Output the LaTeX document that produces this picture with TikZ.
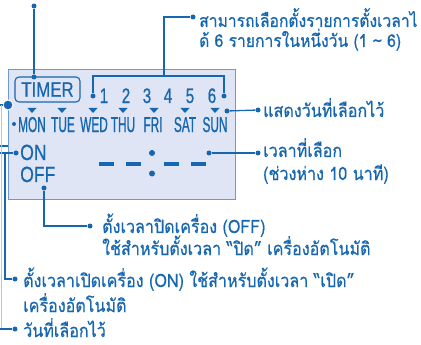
\documentclass[tikz,border=0pt]{standalone}
\usepackage{fontspec}
\setmainfont{Liberation Sans}
\newfontfamily\thfont[Script=Thai,FakeStretch=0.88,FakeBold=0.6]{Loma}
\newfontfamily\dayfont[FakeStretch=0.55,FakeBold=0.8]{Liberation Sans}
\newfontfamily\numfont[FakeStretch=0.72,FakeBold=0.6]{Liberation Sans}
\newfontfamily\timfont[FakeStretch=0.8,FakeBold=0.5]{Liberation Sans}
\definecolor{tb}{HTML}{1766B0}
\definecolor{lcdfill}{HTML}{DFE5F4}
\definecolor{lcdline}{HTML}{6B9AD3}
\begin{document}
\begin{tikzpicture}[x=1pt,y=-1pt,
  th/.style={font=\thfont\fontsize{18.3}{20}\selectfont, text=tb, anchor=base west, inner sep=0pt},
  daylbl/.style={font=\dayfont\fontsize{21.5}{24}\selectfont, text=tb, anchor=base, inner sep=0pt},
  numlbl/.style={font=\numfont\fontsize{21}{24}\selectfont, text=tb, anchor=base, inner sep=0pt},
  onoff/.style={font=\timfont\fontsize{22}{24}\selectfont, text=tb, anchor=base west, inner sep=0pt},
  dotc/.style={circle, fill=tb, inner sep=0pt, minimum size=5pt},
  smalldot/.style={circle, fill=tb, inner sep=0pt, minimum size=4pt},
  conn/.style={draw=tb, line width=1.3pt},
  tri/.style={fill=tb},
  dashseg/.style={draw=tb, line width=4pt},
]
\useasboundingbox (0,0) rectangle (421,345);
% LCD
\node[draw=lcdline, fill=lcdfill, line width=1.3pt, minimum width=227pt, minimum height=130pt, inner sep=0pt, anchor=north west] (lcd) at (8,69) {};
% TIMER box
\node[draw=tb, rounded corners=4pt, line width=1.1pt, minimum width=65pt, minimum height=25pt, inner sep=0pt,
      font=\timfont\fontsize{21}{24}\selectfont, text=tb] (timer) at (47.5,89.5) {TIMER};
\node[dotc] (dtop) at (34,6) {};
\node[dotc] (dtim) at (34,77) {};
\draw[conn] (dtop) -- (dtim);
% bracket
\node[dotc] (b1) at (93,96) {};
\node[dotc] (b6) at (224,96) {};
\coordinate (bl) at (93,76);
\coordinate (br) at (224,76);
\coordinate (bm) at (164,76);
\coordinate (bt) at (164,17);
\node[dotc] (dsel) at (193,17) {};
\draw[conn] (b1) -- (bl) -- (br) -- (b6);
\draw[conn] (bm) -- (bt) -- (dsel);
\node[th, font=\thfont\fontsize{17.8}{20}\selectfont] (tsel1) at (199,27) {สามารถเลือกตั้งรายการตั้งเวลาไ};
\node[th, font=\thfont\fontsize{17.8}{20}\selectfont] (tsel2) at (199,47) {ด้ 6 รายการในหนึ่งวัน (1 \textasciitilde{} 6)};
% numbers
\foreach \n/\x in {1/104,2/126,3/147,4/168,5/190,6/212}{
  \node[numlbl] (n\n) at (\x,103) {\n};
}
% triangles
\foreach \x in {32,62,93,123,154,185,215}{
  \fill[tri] (\x-4.5,108) -- (\x+4.5,108) -- (\x,113) -- cycle;
}
% days
\foreach \d/\x in {MON/32,TUE/63,WED/94,THU/123,FRI/153,SAT/185,SUN/215}{
  \node[daylbl] (day\d) at (\x,132) {\d};
}
\node[smalldot] (dmon) at (14,124) {};
% SUN connector
\node[dotc] (dsun) at (227,111) {};
\node[dotc] (dsunr) at (258,110) {};
\draw[conn] (dsun) -- (dsunr);
\node[th] (tsun) at (263,117) {แสดงวันที่เลือกไว้};
% time display
\draw[dashseg] (99,164) -- (114,164);
\draw[dashseg] (126,164) -- (141,164);
\draw[dashseg] (164,164) -- (179,164);
\draw[dashseg] (191,164) -- (206,164);
\node[circle, fill=tb, inner sep=0pt, minimum size=6pt] (col1) at (152,153) {};
\node[circle, fill=tb, inner sep=0pt, minimum size=6pt] (col2) at (152,173.5) {};
\node[dotc] (dtime) at (209,153) {};
\node[dotc] (dtimer) at (258,153) {};
\draw[conn] (dtime) -- (dtimer);
\node[th] (ttime1) at (263,157) {เวลาที่เลือก};
\node[th] (ttime2) at (263,180) {(ช่วงห่าง 10 นาที)};
% ON / OFF
\node[onoff] (on) at (20,160) {ON};
\node[onoff] (off) at (20,182) {OFF};
\node[dotc] (don) at (16,153) {};
\node[dotc] (doff) at (44,188) {};
\coordinate (offc) at (44,226);
\node[dotc] (doffr) at (90,226) {};
\draw[conn] (doff) -- (offc) -- (doffr);
\node[th] (toff1) at (102,233) {ตั้งเวลาปิดเครื่อง (OFF)};
\node[th] (toff2) at (102,255) {ใช้สำหรับตั้งเวลา “ปิด” เครื่องอัตโนมัติ};
% left connectors
\node[circle, fill=tb, draw=white, line width=1pt, inner sep=0pt, minimum size=10pt] (bigdot) at (8,105) {};
\coordinate (e1) at (0,105);
\draw[conn] (bigdot) -- (e1);
\coordinate (e2) at (0,146);
\coordinate (e3) at (8,146);
\draw[conn] (e2) -- (e3);
\coordinate (e4) at (0,153);
\draw[conn] (don) -- (e4);
\coordinate (v1) at (5,153);
\coordinate (v2) at (5,279);
\node[dotc] (donr) at (15,279) {};
\draw[conn] (v1) -- (v2) -- (donr);
\coordinate (f1) at (1,105);
\coordinate (f2) at (1,329);
\draw[draw=tb!35, line width=1pt] (f1) -- (f2);
\coordinate (e5) at (0,329);
\node[dotc] (dday) at (15,329) {};
\draw[conn] (e5) -- (dday);
\node[th] (ton1) at (23,287) {ตั้งเวลาเปิดเครื่อง (ON) ใช้สำหรับตั้งเวลา “เปิด”};
\node[th] (ton2) at (23,312) {เครื่องอัตโนมัติ};
\node[th] (tday) at (23,337) {วันที่เลือกไว้};
\end{tikzpicture}
\end{document}
